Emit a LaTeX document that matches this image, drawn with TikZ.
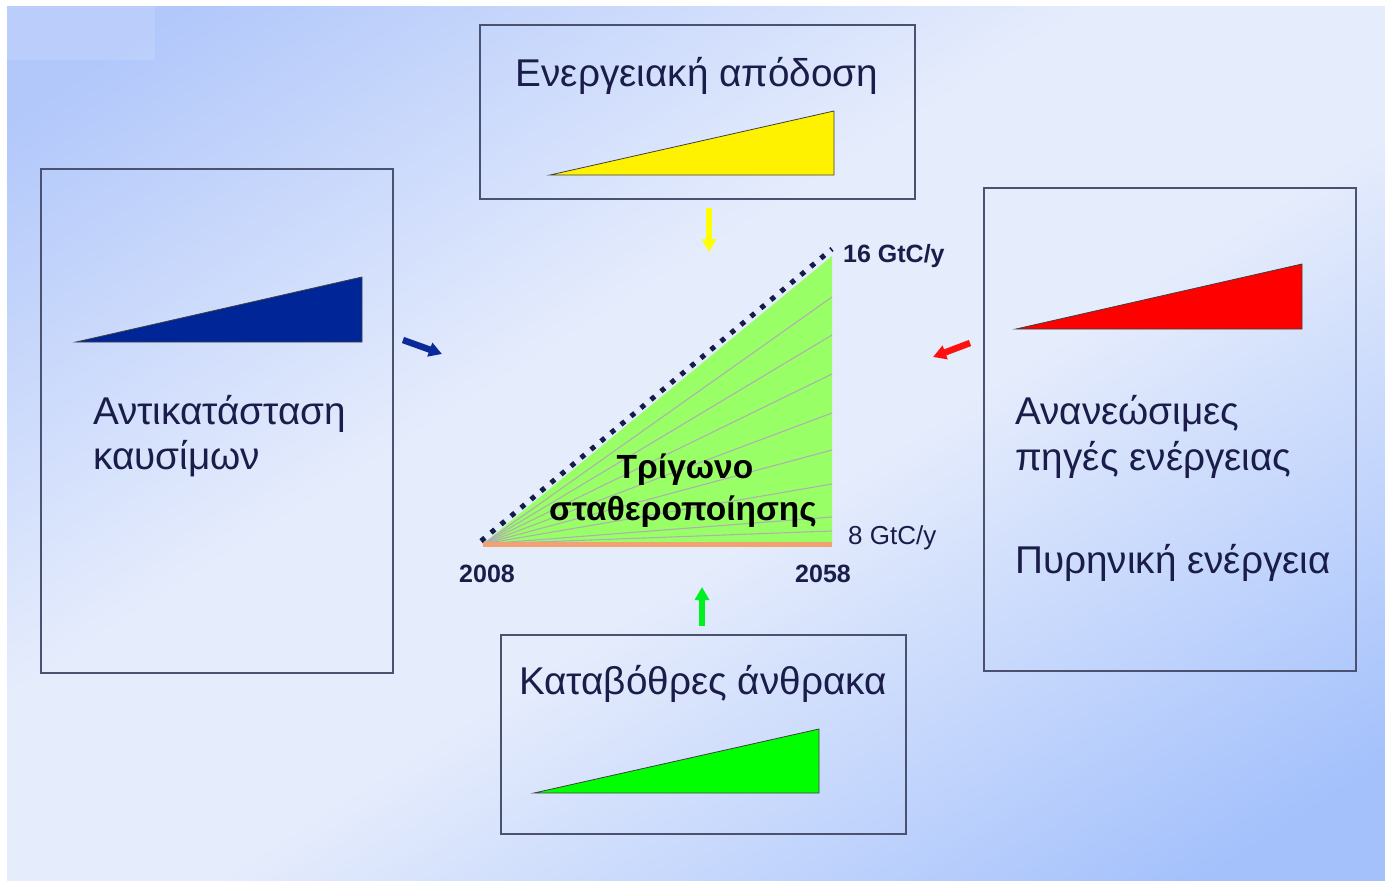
\documentclass[tikz,border=0pt]{standalone}
\usepackage{fontspec}
\setmainfont{Liberation Sans}
\usetikzlibrary{arrows.meta}
\definecolor{bgTL}{HTML}{B2C8FB}
\definecolor{bgMid}{HTML}{E5ECFC}
\definecolor{bgBR}{HTML}{A4C1FC}
\definecolor{boxLine}{HTML}{4B5270}
\definecolor{txtCol}{HTML}{1A1D4A}
\definecolor{navyTri}{HTML}{002596}
\definecolor{triGreen}{HTML}{99FF66}
\definecolor{fanGrey}{HTML}{B0B0B0}
\definecolor{baseOrange}{HTML}{F2A270}
\definecolor{dotNavy}{HTML}{141C4A}
\definecolor{arrGreen}{HTML}{00F020}
\definecolor{arrYellow}{HTML}{FFFF00}
\definecolor{arrRed}{HTML}{FF1010}
\definecolor{arrBlue}{HTML}{0A2A9A}
\pgfdeclarehorizontalshading{bgshade}{100bp}{color(0bp)=(bgTL); color(9bp)=(bgTL); color(40bp)=(bgMid); color(57bp)=(bgMid); color(91bp)=(bgBR); color(100bp)=(bgBR)}
\begin{document}
\begin{tikzpicture}[x=1pt,y=-1pt,
  box/.style={draw=boxLine,line width=2pt,rectangle,inner sep=0pt,fill=none},
  maintext/.style={text=txtCol,font=\fontsize{38.7}{46}\selectfont,inner sep=0pt},
  ctext/.style={text=black,font=\bfseries\fontsize{33.5}{40}\selectfont,inner sep=0pt},
  lbl/.style={text=txtCol,font=\bfseries\fontsize{25}{30}\selectfont,inner sep=0pt},
  lblreg/.style={text=txtCol,font=\fontsize{26}{30}\selectfont,inner sep=0pt},
  wedge/.style={draw=black!75,line width=0.8pt,line join=miter},
  fatarrow/.style={line width=6.5pt,-{Triangle[width=14pt,length=13pt]}},
  fan/.style={draw=fanGrey,line width=1.1pt},
  dotline/.style={draw=dotNavy,line width=5pt,dash pattern=on 5pt off 8pt}
]
\useasboundingbox (0,0) rectangle (1385,881);
\fill[white] (0,0) rectangle (1385,881);
\shade[left color=bgMid,right color=bgBR] (7,840) rectangle (1395,895);
\begin{scope}
  \clip (7,6) rectangle (1395,895);
  \pgftransformshift{\pgfpointxy{696}{443.5}}
  \pgftransformrotate{-57.5}
  \pgftransformxscale{15.6}
  \pgftransformyscale{19}
  \pgflowlevelsynccm
  \pgfuseshading{bgshade}
\end{scope}
\fill[white,opacity=0.12] (7,6) rectangle (155,60);

% boxes
\node[box,minimum width=352pt,minimum height=504pt] (L) at (217,421) {};
\node[box,minimum width=435pt,minimum height=174pt] (T) at (697.5,112) {};
\node[box,minimum width=372pt,minimum height=483pt] (R) at (1170,429.5) {};
\node[box,minimum width=405pt,minimum height=199pt] (B) at (703.5,734.5) {};

% wedges in boxes
\draw[wedge,fill=navyTri] (76,342) -- (362,342) -- (362,277) -- cycle;
\draw[wedge,fill=yellow] (550,175) -- (834,175) -- (834,111) -- cycle;
\draw[wedge,fill=red] (1016,329) -- (1302,329) -- (1302,264) -- cycle;
\draw[wedge,fill=green] (534,793) -- (819,793) -- (819,729) -- cycle;

% box texts
\node[maintext,anchor=base west] (L1) at (93,424) {Αντικατάσταση};
\node[maintext,anchor=base west] (L2) at (93,469) {καυσίμων};
\node[maintext,anchor=base] (T1) at (697,86) {Ενεργειακή απόδοση};
\node[maintext,anchor=base] (B1) at (703,694) {Καταβόθρες άνθρακα};
\node[maintext,anchor=base west] (R1) at (1015,424) {Ανανεώσιμες};
\node[maintext,anchor=base west] (R2) at (1015,470) {πηγές ενέργειας};
\node[maintext,anchor=base west] (R3) at (1015,573) {Πυρηνική ενέργεια};

% central triangle
\coordinate (A) at (483,544);
\coordinate (Bc) at (832,544);
\coordinate (C) at (832,256);
\fill[triGreen] (A) -- (Bc) -- (C) -- cycle;
\foreach \yy in {297,335,374,413,450,484,517,531}
  \draw[fan] (A) -- (832,\yy);
\draw[baseOrange,line width=5pt] (A) -- (Bc);
\coordinate (D0) at (481,541);
\coordinate (D1) at (832,249);
\draw[dotline] (D0) -- (D1);

\node[ctext,anchor=base] (ct1) at (685,478) {Τρίγωνο};
\node[ctext,anchor=base] (ct2) at (683,520) {σταθεροποίησης};

\node[lbl,anchor=base west] (l16) at (843,262) {16 GtC/y};
\node[lblreg,anchor=base west] (l8) at (848,544) {8 GtC/y};
\node[lbl,anchor=base west] (y1) at (459,582) {2008};
\node[lbl,anchor=base west] (y2) at (795,582) {2058};

% arrows
\coordinate (aY0) at (709,208); \coordinate (aY1) at (709,252);
\coordinate (aB0) at (403,340); \coordinate (aB1) at (442,354);
\coordinate (aR0) at (970,343); \coordinate (aR1) at (933,357);
\coordinate (aG0) at (702,626); \coordinate (aG1) at (702,587);
\draw[fatarrow,arrYellow] (aY0) -- (aY1);
\draw[fatarrow,arrBlue] (aB0) -- (aB1);
\draw[fatarrow,arrRed] (aR0) -- (aR1);
\draw[fatarrow,arrGreen] (aG0) -- (aG1);
\end{tikzpicture}
\end{document}
